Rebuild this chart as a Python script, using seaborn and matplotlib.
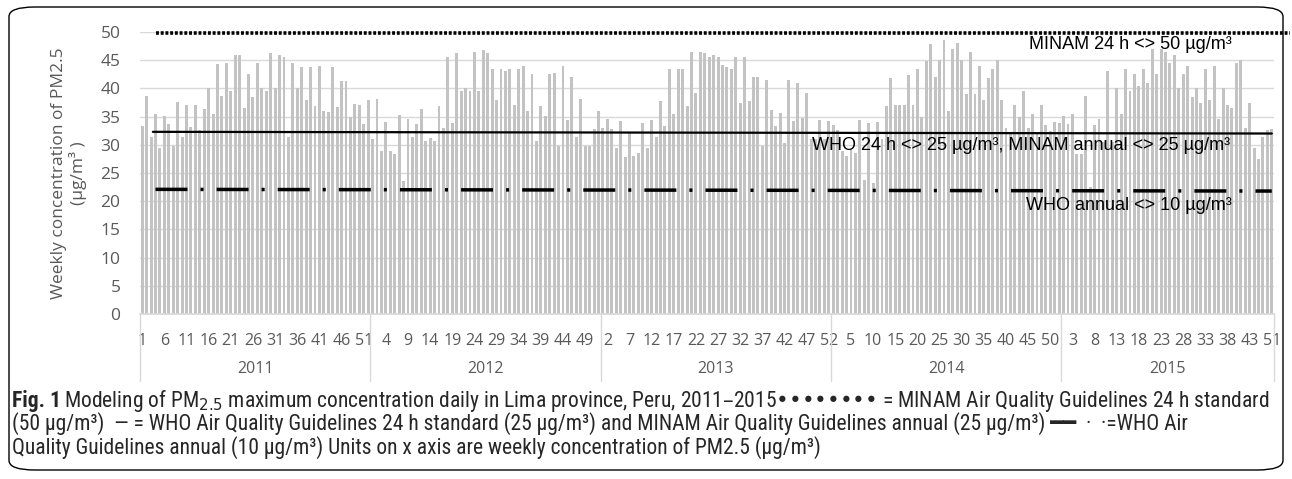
import numpy as np
import pandas as pd
import matplotlib
matplotlib.use("Agg")
import matplotlib.pyplot as plt
import matplotlib.transforms as mtransforms
from matplotlib import font_manager as fm
from matplotlib.patches import FancyBboxPatch
import seaborn as sns

# ---------------- data ----------------
years = ["2011", "2012", "2013", "2014", "2015"]
weeks_2011 = list(range(1, 53))
weeks_2012 = list(range(1, 53))
weeks_2013 = list(range(1, 53))
weeks_2014 = list(range(1, 53))
weeks_2015 = list(range(1, 44)) + [47, 48, 49, 50, 51]

pm_2011 = [33.4, 38.6, 31.3, 35.5, 29.5, 35.1, 33.6, 29.8, 37.6, 31.3, 37.1, 33.2, 37.0,
           32.7, 36.3, 40.0, 35.5, 44.4, 38.6, 44.5, 39.5, 46.0, 45.9, 36.5, 42.5, 38.5,
           44.5, 40.0, 39.5, 46.3, 40.0, 46.0, 45.5, 31.3, 44.5, 40.0, 43.8, 37.9, 43.8,
           36.9, 44.0, 36.0, 35.8, 43.8, 36.7, 41.3, 41.3, 35.0, 37.3, 37.0, 33.6, 37.9]
pm_2012 = [31.0, 38.2, 28.9, 34.1, 28.9, 28.3, 35.2, 23.6, 34.5, 31.4, 33.6, 36.4, 30.7,
           31.2, 30.7, 36.9, 32.9, 45.5, 33.8, 46.3, 39.5, 40.0, 39.5, 46.5, 39.5, 46.8,
           46.3, 43.5, 37.9, 43.5, 43.0, 43.5, 37.1, 43.5, 44.0, 36.0, 42.5, 30.7, 36.9,
           35.1, 42.5, 42.8, 29.8, 44.0, 34.4, 42.0, 31.4, 38.2, 29.8, 29.8, 32.8, 36.0]
pm_2013 = [33.0, 34.5, 32.8, 29.4, 34.2, 27.9, 32.3, 28.0, 28.5, 33.8, 29.4, 34.4, 31.3,
           37.8, 33.4, 43.4, 35.5, 43.5, 43.5, 36.9, 46.5, 39.1, 46.5, 46.3, 45.5, 46.0,
           45.5, 44.2, 43.8, 43.4, 45.5, 37.5, 45.5, 37.8, 42.0, 42.0, 29.8, 41.5, 36.1,
           33.4, 35.7, 30.4, 41.5, 34.2, 41.0, 34.8, 39.1, 31.0, 31.0, 34.4, 31.0, 34.2]
pm_2014 = [33.5, 32.6, 28.9, 28.1, 29.2, 28.5, 34.4, 23.8, 33.8, 23.2, 34.1, 31.0, 36.9,
           41.8, 37.1, 37.1, 37.1, 42.3, 37.1, 43.4, 34.9, 44.8, 47.8, 42.1, 45.1, 48.5,
           36.0, 47.0, 48.0, 45.0, 39.0, 46.5, 39.0, 44.0, 38.0, 41.8, 43.5, 45.0, 38.0,
           33.0, 32.0, 37.0, 35.0, 39.5, 33.0, 35.5, 32.0, 37.0, 33.5, 32.5, 34.0, 33.9]
pm_2015 = [35.1, 33.6, 35.4, 28.3, 28.3, 38.7, 22.5, 33.5, 34.5, 30.5, 43.0, 30.5, 40.0,
           35.5, 43.5, 39.5, 42.5, 40.5, 43.5, 41.0, 47.0, 42.5, 47.0, 46.5, 44.5, 46.0,
           40.0, 42.5, 44.0, 38.5, 40.0, 37.5, 43.5, 38.0, 44.0, 34.5, 40.0, 37.0, 36.5,
           44.5, 45.0, 33.0, 37.5, 29.5, 27.5, 31.3, 32.6, 32.8]

# guideline series (y values at start and end of the line)
minam_24h = [49.8, 49.8]
who_24h = [32.3, 32.0]
who_annual = [22.1, 21.8]
line_start = 3

# ---------------- fonts ----------------
avail = {f.name for f in fm.fontManager.ttflist}
def pick(*names):
    for n in names:
        if n in avail:
            return n
    return "DejaVu Sans"
tick_font = pick("Open Sans", "Noto Sans", "DejaVu Sans")
note_font = pick("Liberation Sans", "DejaVu Sans")
cap_font = pick("Liberation Sans Narrow", "Roboto Condensed", "Liberation Sans")

sns.set_theme(style="white")
plt.rcParams["font.family"] = [tick_font, "DejaVu Sans"]
plt.rcParams["lines.scale_dashes"] = False

week_lists = [weeks_2011, weeks_2012, weeks_2013, weeks_2014, weeks_2015]
pm_lists = [pm_2011, pm_2012, pm_2013, pm_2014, pm_2015]
rows = []
for y, wl, pl in zip(years, week_lists, pm_lists):
    for w, v in zip(wl, pl):
        rows.append((y, w, v))
df = pd.DataFrame(rows, columns=["year", "week", "pm"])
df["pos"] = np.arange(len(df))
N = len(df)

W, H = 1292, 479
fig = plt.figure(figsize=(W / 100, H / 100), dpi=100)
ax = fig.add_axes([140 / W, 1 - 314 / H, (1274 - 140) / W, (314 - 32) / H])

grey_txt = "#595959"
ax.set_ylim(0, 50)
ax.set_yticks(np.arange(0, 51, 5))
ax.yaxis.grid(True, color="#D9D9D9", linewidth=1)
ax.set_axisbelow(True)

sns.barplot(data=df, x="pos", y="pm", color="#C3C3C3", saturation=1,
            width=0.66, ax=ax, native_scale=True, linewidth=0)
ax.set_xlim(-0.5, N - 0.5)

# guideline lines
x_line = [line_start, N - 1]
ax.plot([line_start, N + 3], minam_24h, color="black", lw=2.6, linestyle=(0, (2.1, 1.3)),
        clip_on=False, dash_capstyle="butt")
ax.plot([line_start - 0.6, N - 1], who_24h, color="black", lw=1.6, clip_on=False)
ax.plot(x_line, who_annual, color="black", lw=2.5,
        linestyle=(0, (23, 9.4, 2.2, 9.4)), dash_capstyle="butt")

# annotations
ntrans = mtransforms.blended_transform_factory(ax.transAxes, ax.transData)
nfont = dict(ha="right", va="center", fontsize=13, family=[note_font, "DejaVu Sans"],
             color="black", transform=ntrans)
ax.text(0.963, 47.8, "MINAM 24 h <> 50 \u00b5g/m\u00b3", **nfont)
ax.text(0.961, 29.8, "WHO 24 h <> 25 \u00b5g/m\u00b3, MINAM annual <> 25 \u00b5g/m\u00b3", **nfont)
ax.text(0.963, 19.3, "WHO annual <> 10 \u00b5g/m\u00b3", **nfont)

# axes styling
for s in ["top", "right", "left"]:
    ax.spines[s].set_visible(False)
ax.spines["bottom"].set_color("#D9D9D9")
ax.tick_params(axis="y", length=0, labelsize=12.5, labelcolor=grey_txt, pad=14)
tick_pos = df["pos"].values[::5]
ax.set_xticks(tick_pos)
ax.set_xticklabels([str(w) for w in df["week"].values[::5]])
ax.tick_params(axis="x", length=0, labelsize=11.5, labelcolor=grey_txt, pad=14)
ax.set_xlabel("")
ax.set_ylabel("Weekly concentration of PM2.5\n(\u00b5g/m\u00b3 )", fontsize=12.5, color=grey_txt,
              labelpad=10, linespacing=1.1)

# year group labels + separators
btrans = mtransforms.blended_transform_factory(ax.transData, ax.transAxes)
ax_h_px = 314 - 32
sep_bottom = -(381 - 314) / ax_h_px
year_y = -(369 - 314) / ax_h_px
start = 0
bounds = [-0.5]
for y, wl in zip(years, week_lists):
    n = len(wl)
    ax.text(start + (n - 1) / 2, year_y, y, transform=btrans, ha="center", va="center",
            fontsize=11.5, color=grey_txt)
    start += n
    bounds.append(start - 0.5)
for b in bounds:
    ax.plot([b, b], [0, sep_bottom], transform=btrans, color="#D9D9D9", lw=1, clip_on=False)

# caption
cap = [cap_font, "DejaVu Sans"]
cs = 15.5
fig.text(12 / W, 1 - 401 / H, "Fig. 1", fontsize=cs, fontweight="bold", family=cap, va="center")
fig.text(64 / W, 1 - 401 / H,
         "Modeling of PM$_{2.5}$ maximum concentration daily in Lima province, Peru, 2011\u20132015\u2022\u2022\u2022\u2022\u2022\u2022\u2022\u2022 = MINAM Air Quality Guidelines 24 h standard",
         fontsize=cs, family=cap, va="center")
fig.text(12 / W, 1 - 424 / H,
         "(50 \u00b5g/m\u00b3)  \u2014 = WHO Air Quality Guidelines 24 h standard (25 \u00b5g/m\u00b3) and MINAM Air Quality Guidelines annual (25 \u00b5g/m\u00b3) \u2501\u2501  \u00b7  \u00b7=WHO Air",
         fontsize=cs, family=cap, va="center")
fig.text(12 / W, 1 - 448 / H,
         "Quality Guidelines annual (10 \u00b5g/m\u00b3) Units on x axis are weekly concentration of PM2.5 (\u00b5g/m\u00b3)",
         fontsize=cs, family=cap, va="center")

# rounded frame
frame = FancyBboxPatch((9 / W, 9 / H), (W - 18) / W, (H - 16) / H,
                       boxstyle="round,pad=0,rounding_size=0.02", transform=fig.transFigure,
                       fill=False, edgecolor="black", linewidth=1.0)
fig.patches.append(frame)

fig.savefig("out.png", dpi=100)
